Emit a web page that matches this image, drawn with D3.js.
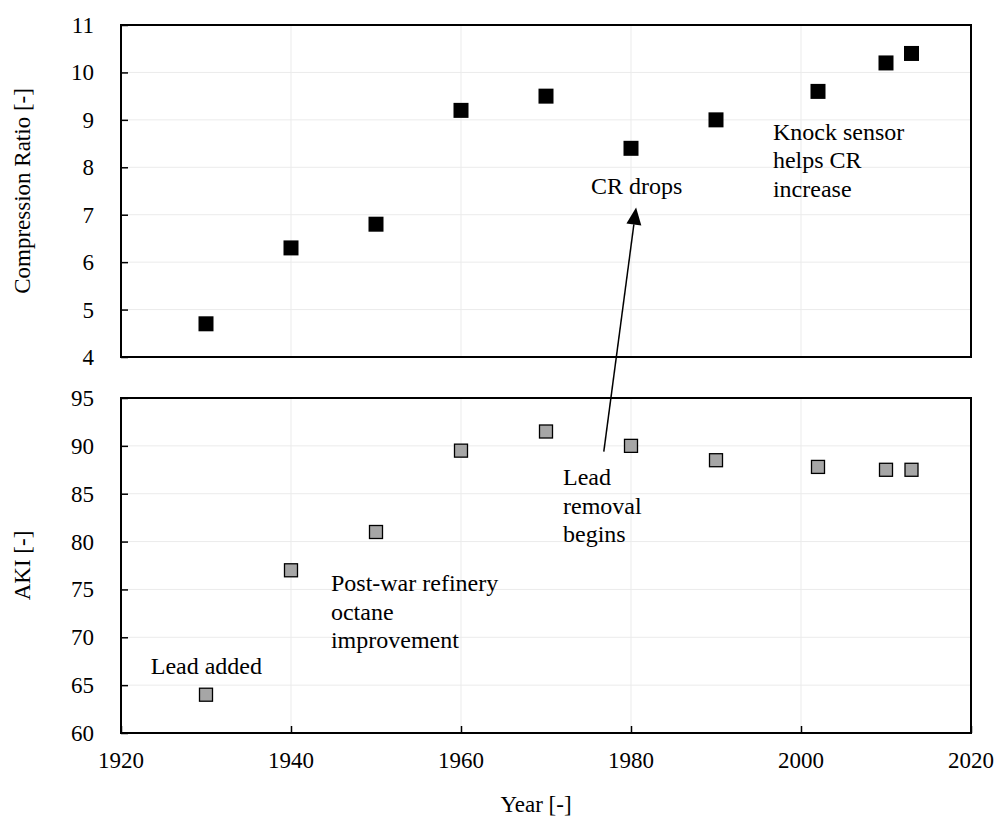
<!DOCTYPE html>
<html>
<head>
<meta charset="utf-8">
<script src="https://cdn.jsdelivr.net/npm/d3@7"></script>
<style>
    body { margin: 0; background: #fff; }
    svg { display: block; }
    svg text { font-family: "Liberation Serif", "Times New Roman", Tinos, "DejaVu Serif", serif; }
    .grid line { stroke: #ebebeb; stroke-width: 1; }
    .frame { fill: none; stroke: #000; stroke-width: 2; }
    .tick-label { font-size: 23px; fill: #000; }
    .note { font-size: 24px; fill: #000; }
</style>
</head>
<body>
<svg id="chart"></svg>
<script>
const years = [1930, 1940, 1950, 1960, 1970, 1980, 1990, 2002, 2010, 2013];
const compressionRatio = [4.7, 6.3, 6.8, 9.2, 9.5, 8.4, 9.0, 9.6, 10.2, 10.4];
const aki = [64, 77, 81, 89.5, 91.5, 90, 88.5, 87.8, 87.5, 87.5];

const yearTicks = [1920, 1940, 1960, 1980, 2000, 2020];
const crTicks = [4, 5, 6, 7, 8, 9, 10, 11];
const akiTicks = [60, 65, 70, 75, 80, 85, 90, 95];

const crNotes = [
    {year: 1975.3, value: 7.44, lines: ['CR drops']},
    {year: 1996.7, value: 8.58, lines: ['Knock sensor', 'helps CR', 'increase']},
];
const akiNotes = [
    {year: 1923.5, value: 66.2, lines: ['Lead added']},
    {year: 1944.7, value: 74.8, lines: ['Post-war refinery', 'octane', 'improvement']},
    {year: 1972, value: 85.9, lines: ['Lead', 'removal', 'begins']},
];
// arrow from the lower panel up into the upper one
const arrowFrom = {year: 1976.8, aki: 89.4};
const arrowTo = {year: 1980.6, cr: 7.15};

const fontFamily = '"Liberation Serif", "Times New Roman", Tinos, "DejaVu Serif", serif';
const fullWidth = 994;
const fullHeight = 817;

const svg = d3.select('#chart')
    .attr('width', fullWidth)
    .attr('height', fullHeight)
    .attr('font-family', fontFamily);

const xScale = d3.scaleLinear()
    .domain([1920, 2020])
    .range([121, 971]);

const yTop = d3.scaleLinear()
    .domain([4, 11])
    .range([357, 25]);

const yBottom = d3.scaleLinear()
    .domain([60, 95])
    .range([733, 398]);

function drawPanel(yScale, ticks, showXTicks) {
    const [y0, y1] = yScale.range();
    const [x0, x1] = xScale.range();
    const g = svg.append('g');

    const grid = g.append('g').attr('class', 'grid');
    grid.selectAll('.gy').data(ticks.slice(1, -1))
        .enter().append('line')
        .attr('x1', x0).attr('x2', x1)
        .attr('y1', d => yScale(d)).attr('y2', d => yScale(d));
    grid.selectAll('.gx').data(yearTicks.slice(1, -1))
        .enter().append('line')
        .attr('x1', d => xScale(d)).attr('x2', d => xScale(d))
        .attr('y1', y1).attr('y2', y0);

    const yAxis = d3.axisRight(yScale)
        .tickValues(ticks)
        .tickSize(7)
        .tickFormat('');
    g.append('g')
        .attr('transform', `translate(${x0}, 0)`)
        .call(yAxis)
        .call(a => a.select('.domain').remove())
        .call(a => a.selectAll('line').attr('stroke-width', 1.5));

    g.selectAll('.ylab').data(ticks)
        .enter().append('text')
        .attr('class', 'tick-label')
        .attr('x', 94)
        .attr('y', d => yScale(d) + 8)
        .attr('text-anchor', 'end')
        .text(d => d);

    if (showXTicks) {
        const xAxis = d3.axisTop(xScale)
            .tickValues(yearTicks)
            .tickSize(7)
            .tickFormat('');
        g.append('g')
            .attr('transform', `translate(0, ${y0})`)
            .call(xAxis)
            .call(a => a.select('.domain').remove())
            .call(a => a.selectAll('line').attr('stroke-width', 1.5));
    }

    g.append('rect')
        .attr('class', 'frame')
        .attr('x', x0).attr('y', y1)
        .attr('width', x1 - x0).attr('height', y0 - y1);
    return g;
}

const topPanel = drawPanel(yTop, crTicks, false);
const bottomPanel = drawPanel(yBottom, akiTicks, true);

const crSize = 15;
topPanel.selectAll('.cr').data(years)
    .enter().append('rect')
    .attr('x', d => xScale(d) - crSize / 2)
    .attr('y', (d, i) => yTop(compressionRatio[i]) - crSize / 2)
    .attr('width', crSize)
    .attr('height', crSize)
    .attr('fill', '#000');

const akiSize = 13;
bottomPanel.selectAll('.aki').data(years)
    .enter().append('rect')
    .attr('x', d => xScale(d) - akiSize / 2)
    .attr('y', (d, i) => yBottom(aki[i]) - akiSize / 2)
    .attr('width', akiSize)
    .attr('height', akiSize)
    .attr('fill', '#a6a6a6')
    .attr('stroke', '#000')
    .attr('stroke-width', 1.3);

function drawNotes(notes, yScale) {
    notes.forEach(n => {
        const t = svg.append('text')
            .attr('class', 'note')
            .attr('x', xScale(n.year))
            .attr('y', yScale(n.value));
        n.lines.forEach((line, i) => {
            t.append('tspan')
                .attr('x', xScale(n.year))
                .attr('dy', i === 0 ? 0 : 28.5)
                .text(line);
        });
    });
}
drawNotes(crNotes, yTop);
drawNotes(akiNotes, yBottom);

// arrow
const ax0 = xScale(arrowFrom.year), ay0 = yBottom(arrowFrom.aki);
const ax1 = xScale(arrowTo.year), ay1 = yTop(arrowTo.cr);
const ang = Math.atan2(ay1 - ay0, ax1 - ax0);
const headLen = 17, headHalf = 7.5;
const bx = ax1 - headLen * Math.cos(ang), by = ay1 - headLen * Math.sin(ang);
svg.append('line')
    .attr('x1', ax0).attr('y1', ay0)
    .attr('x2', bx).attr('y2', by)
    .attr('stroke', '#000')
    .attr('stroke-width', 1.5);
svg.append('polygon')
    .attr('points', [
        [ax1, ay1],
        [bx + headHalf * Math.sin(ang), by - headHalf * Math.cos(ang)],
        [bx - headHalf * Math.sin(ang), by + headHalf * Math.cos(ang)],
    ].map(p => p.join(',')).join(' '))
    .attr('fill', '#000');

// x tick labels
svg.selectAll('.xlab').data(yearTicks)
    .enter().append('text')
    .attr('class', 'tick-label')
    .attr('x', d => xScale(d))
    .attr('y', 768)
    .attr('text-anchor', 'middle')
    .text(d => d);

// axis titles
svg.append('text')
    .attr('class', 'tick-label')
    .attr('transform', `translate(30, ${(yTop.range()[0] + yTop.range()[1]) / 2}) rotate(-90)`)
    .attr('text-anchor', 'middle')
    .text('Compression Ratio [-]');

svg.append('text')
    .attr('class', 'tick-label')
    .attr('transform', `translate(30, ${(yBottom.range()[0] + yBottom.range()[1]) / 2}) rotate(-90)`)
    .attr('text-anchor', 'middle')
    .text('AKI [-]');

svg.append('text')
    .attr('class', 'tick-label')
    .attr('x', 536)
    .attr('y', 812)
    .attr('text-anchor', 'middle')
    .text('Year [-]');
</script>
</body>
</html>
